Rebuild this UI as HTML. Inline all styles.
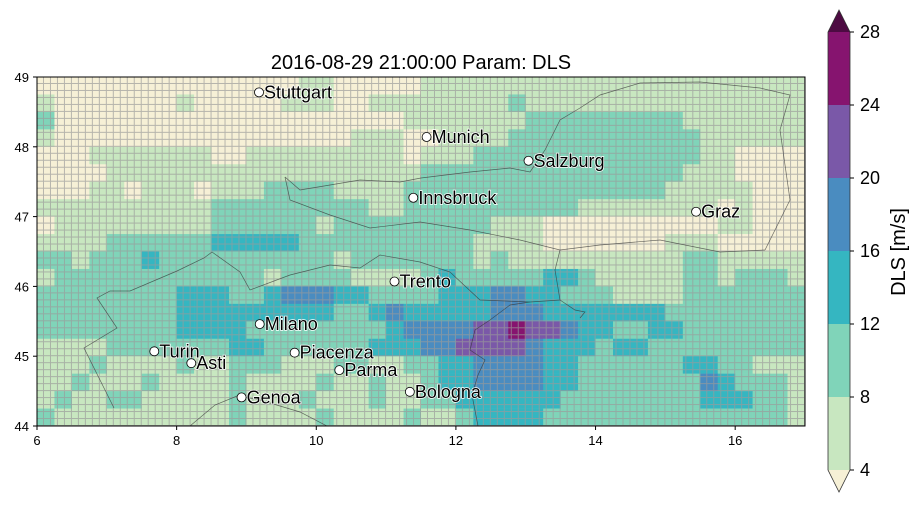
<!DOCTYPE html>
<html><head><meta charset="utf-8"><style>
body{margin:0;background:#fff;}
svg text{font-family:"Liberation Sans","DejaVu Sans",sans-serif;}
</style></head><body>
<svg id="chart" width="918" height="503" viewBox="0 0 918 503" xmlns="http://www.w3.org/2000/svg">
<defs>
<pattern id="gridpat" x="37" y="77" width="6.982" height="6.98" patternUnits="userSpaceOnUse">
<path d="M6.5 0V7M0 6.5H7" stroke="#9a9a9a" stroke-width="1" opacity="0.7" fill="none"/>
</pattern>
<clipPath id="mapclip"><rect x="37" y="77" width="768" height="349"/></clipPath>
</defs>
<text x="421" y="69" text-anchor="middle" font-size="20">2016-08-29 21:00:00 Param: DLS</text>
<g id="cells" clip-path="url(#mapclip)"></g>
<rect x="37" y="77" width="768" height="349" fill="url(#gridpat)"/>
<g clip-path="url(#mapclip)" fill="none" stroke="#333" stroke-width="0.7" opacity="0.7">
<path d="M285 177 L300 190 L330 185 L360 180 L400 182 L421 178 L470 172 L510 168 L530 172 L545 150 L560 120 L580 108 L600 95 L640 83 L700 82 L760 88 L790 95 L780 130 L790 200 L775 230 L765 250"/>
<path d="M285 177 L290 200 L330 215 L370 228 L420 222 L470 230 L520 240 L560 250 L600 245 L660 240 L720 252 L765 250"/>
<path d="M114 408 L84 348 L117 328 L97 298 L110 291 L130 291 L177 271 L204 258 L212 252 L240 272 L250 290 L290 275 L330 265 L360 268 L380 255 L420 262 L450 272 L480 300 L530 302 L560 300 L555 270 L560 250"/>
<path d="M530 302 L510 305 L490 320 L475 330 L470 350 L485 360 L478 375 L472 395 L478 426"/>
<path d="M560 300 L575 310 L585 312 L580 318"/>
<path d="M190 426 L215 405 L237 396 L260 400 L300 412 L327 426"/>
</g>
<g id="cities"></g>
<rect x="37" y="77" width="768" height="349" fill="none" stroke="#000" stroke-width="1"/>
<g id="xaxis"></g>
<g id="yaxis"></g>
<g id="colorbar"></g>
<text transform="translate(905,252) rotate(-90)" text-anchor="middle" font-size="20">DLS  [m/s]</text>
</svg>
<script>
const lonMin = 6, lonMax = 17, latMin = 44, latMax = 49;
const cellDeg = 0.25;
const gridRows = [
"00000000000000011000001111111111111111111111",
"10000000100000111001111111121111111111111111",
"20000000000000000000011111112222222221111111",
"10000000000000000011100111122222222222111111",
"00011111110011111111101112222222222222110000",
"00001111111111111111112222222222222221110000",
"00011011101112222111122222222222222211111000",
"11111111112222222221122222222221111111101000",
"01111111112222221222222222111000000000011000",
"11112222223333322222222221111000000011100000",
"22122232222222222122222221211111111112211111",
"12222222222221222211112322222332111112212221",
"22222222333223444332222333443322211112222222",
"22222222333333333223433333444333333322222222",
"22222222333322222222344445565543322332222222",
"11112222222332222223334455554333233222222222",
"11121111211222111221122334444332222223322111",
"11211121111211112112112334444332222222432221",
"12112211111211121112112233333322222222333221",
"21111111111211112111121123333222222222222221"
];
const levelColors = ["#f6f0d6","#c8e7c0","#80d4b9","#35b6c1","#4a8cc0","#7a58a8","#86146f"];
const cbLevels = [4,8,12,16,20,24,28];
const xTicks = [6,8,10,12,14,16];
const yTicks = [44,45,46,47,48,49];
const cityNames = ["Stuttgart","Munich","Salzburg","Innsbruck","Graz","Trento","Milano","Turin","Asti","Piacenza","Parma","Bologna","Genoa"];
const cityLon = [9.18,11.58,13.04,11.39,15.44,11.12,9.19,7.68,8.21,9.69,10.33,11.34,8.93];
const cityLat = [48.78,48.14,47.8,47.27,47.07,46.07,45.46,45.07,44.9,45.05,44.8,44.49,44.41];

const X0=37,X1=805,Y0=77,Y1=426;
const xs = lon => X0 + (lon-lonMin)/(lonMax-lonMin)*(X1-X0);
const ys = lat => Y1 - (lat-latMin)/(latMax-latMin)*(Y1-Y0);
const NS="http://www.w3.org/2000/svg";
function mk(tag, attrs, parent){const e=document.createElementNS(NS,tag);for(const k in attrs)e.setAttribute(k,attrs[k]);parent.appendChild(e);return e;}

const cells=document.getElementById('cells');
gridRows.forEach((rowRaw,r)=>{
  const row=rowRaw.padEnd(44,'2');
  for(let c=0;c<44;c++){
    const v=+row[c];
    const lon=lonMin+c*cellDeg, lat=latMax-r*cellDeg;
    const x=xs(lon), y=ys(lat);
    const e=mk('rect',{x:x,y:y,width:xs(lon+cellDeg)-x+0.3,height:ys(lat-cellDeg)-y+0.3,fill:levelColors[v]},cells);
    
    
  }
});

const cg=document.getElementById('cities');
cityNames.forEach((n,i)=>{
  const x=xs(cityLon[i]), y=ys(cityLat[i]);
  const d=mk('circle',{cx:x,cy:y,r:4.5,fill:'#fff',stroke:'#000','stroke-width':0.8},cg);
  
  
  const t=mk('text',{x:x+5,y:y+6,'font-size':18,fill:'#000',stroke:'#fff','stroke-width':1.5,'paint-order':'stroke'},cg);
  t.textContent=n;
  
  
});

const xa=document.getElementById('xaxis');
xTicks.forEach(v=>{
  const x=xs(v);
  mk('line',{x1:x,x2:x,y1:Y1,y2:Y1+4,stroke:'#000'},xa);
  const t=mk('text',{x:x,y:Y1+19,'text-anchor':'middle','font-size':13},xa);
  t.textContent=v;
  
  
});
const ya=document.getElementById('yaxis');
yTicks.forEach(v=>{
  const y=ys(v);
  mk('line',{x1:X0-4,x2:X0,y1:y,y2:y,stroke:'#000'},ya);
  const t=mk('text',{x:X0-8,y:y+5,'text-anchor':'end','font-size':13},ya);
  t.textContent=v;
  
  
});

const cb=document.getElementById('colorbar');
const CBX=828, CBW=22, CBT=32, CBB=470;
const cy = v => CBB - (v-cbLevels[0])/(cbLevels[cbLevels.length-1]-cbLevels[0])*(CBB-CBT);
for(let i=0;i<cbLevels.length-1;i++){
  const e=mk('rect',{x:CBX,y:cy(cbLevels[i+1]),width:CBW,height:cy(cbLevels[i])-cy(cbLevels[i+1]),fill:levelColors[i+1]},cb);
  
  
}
const tt=mk('path',{d:`M${CBX} ${CBT} L${CBX+CBW/2} ${CBT-22} L${CBX+CBW} ${CBT} Z`,fill:'#4d0b42'},cb);


const tb=mk('path',{d:`M${CBX} ${CBB} L${CBX+CBW/2} ${CBB+22} L${CBX+CBW} ${CBB} Z`,fill:levelColors[0]},cb);


mk('path',{d:`M${CBX} ${CBT} L${CBX+CBW/2} ${CBT-22} L${CBX+CBW} ${CBT} L${CBX+CBW} ${CBB} L${CBX+CBW/2} ${CBB+22} L${CBX} ${CBB} Z`,fill:'none',stroke:'#333','stroke-width':0.8},cb);
cbLevels.forEach(v=>{
  const y=cy(v);
  mk('line',{x1:CBX+CBW,x2:CBX+CBW+4,y1:y,y2:y,stroke:'#000'},cb);
  const t=mk('text',{x:CBX+CBW+10,y:y+6,'font-size':18},cb);
  t.textContent=v;
  
  
});
</script>
</body></html>
